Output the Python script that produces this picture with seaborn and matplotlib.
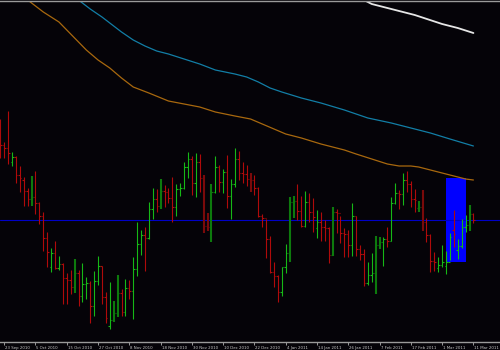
import numpy as np
import pandas as pd
import matplotlib
matplotlib.use("Agg")
import matplotlib.pyplot as plt
import matplotlib.transforms as mtransforms
from matplotlib.patches import Rectangle
import seaborn as sns

# ---------------- data (price units of the chart) ----------------
opens = [225, 205, 202, 188, 193, 175, 170, 159, 151, 153, 147, 134, 112, 83, 97, 82, 86, 72, 70, 63,
         77, 54, 66, 67, 44, 69, 84, 53, 24, 30, 37, 57, 38, 62, 59, 81, 106, 115, 112, 141,
         151, 144, 159, 158, 152, 143, 161, 162, 183, 191, 167, 188, 172, 124, 123, 158, 183, 168, 178, 154,
         166, 191, 177, 176, 171, 170, 162, 134, 132, 111, 78, 74, 58, 83, 97, 148, 149, 139, 124, 148,
         138, 122, 128, 123, 122, 95, 138, 137, 117, 116, 105, 134, 101, 96, 67, 75, 77, 105, 108, 111,
         109, 147, 157, 156, 170, 166, 151, 142, 143, 128, 115, 89, 82, 85, 84, 88, 120, 100, 104, 123,
         125, 136]
highs = [231, 208, 239, 198, 194, 184, 173, 162, 174, 179, 148, 138, 118, 102, 109, 94, 87, 77, 80, 91,
         80, 87, 73, 69, 79, 94, 84, 58, 68, 49, 75, 61, 71, 70, 93, 128, 120, 123, 148, 162,
         161, 171, 165, 162, 173, 166, 167, 188, 198, 194, 197, 196, 175, 137, 166, 194, 185, 181, 195, 171,
         202, 199, 188, 185, 177, 175, 163, 136, 131, 114, 88, 75, 83, 106, 153, 154, 166, 154, 159, 157,
         152, 140, 138, 130, 123, 143, 141, 134, 122, 120, 147, 134, 105, 101, 88, 97, 114, 113, 113, 123,
         153, 167, 160, 177, 179, 169, 161, 149, 160, 132, 116, 98, 93, 105, 99, 117, 140, 111, 131, 135,
         145, 137]
lows = [192, 192, 186, 184, 167, 158, 144, 144, 144, 136, 126, 99, 83, 78, 81, 80, 46, 46, 56, 57,
        44, 48, 51, 27, 34, 65, 46, 27, 21, 28, 33, 34, 34, 51, 31, 74, 95, 79, 111, 131,
        138, 141, 143, 147, 128, 134, 154, 161, 172, 155, 153, 158, 117, 119, 108, 157, 158, 157, 142, 131,
        163, 170, 167, 164, 158, 155, 133, 123, 92, 77, 63, 48, 54, 77, 88, 132, 130, 123, 123, 128,
        118, 112, 109, 109, 87, 94, 117, 107, 93, 93, 94, 94, 90, 64, 65, 68, 56, 101, 84, 103,
        109, 146, 141, 145, 158, 143, 138, 138, 119, 108, 78, 79, 78, 83, 76, 90, 103, 91, 102, 118,
        119, 127]
closes = [205, 202, 197, 193, 175, 172, 159, 151, 153, 147, 134, 112, 98, 97, 82, 86, 72, 70, 63, 77,
          54, 66, 67, 44, 69, 84, 53, 32, 30, 37, 57, 38, 62, 59, 81, 106, 115, 112, 141, 151,
          144, 159, 158, 152, 143, 161, 162, 183, 191, 167, 188, 172, 124, 123, 158, 183, 168, 178, 154, 166,
          191, 177, 176, 171, 170, 162, 134, 132, 111, 78, 74, 58, 83, 97, 148, 149, 139, 124, 148, 138,
          133, 128, 123, 122, 95, 138, 137, 117, 116, 105, 134, 101, 96, 67, 75, 77, 105, 108, 111, 109,
          147, 157, 156, 170, 166, 151, 150, 143, 128, 115, 89, 88, 85, 88, 88, 113, 116, 104, 123, 125,
          136, 130]
# bars drawn in the heavier, darker style
heavy_bars = [8, 19, 29, 30, 41, 52, 53, 54, 64, 74, 75, 85, 96, 97, 107, 108, 120]

# moving averages: (bar index, value) samples
ma_orange_idx = [0, 7, 11, 15, 22, 25, 28, 31, 34, 38, 43, 47, 51, 55, 60, 64, 67, 70, 73, 77, 82, 88, 91,
                 95, 99, 102, 105, 107, 111, 114, 117, 119, 121]
ma_orange_val = [369, 350, 338, 328, 300, 290, 282, 272, 263, 257, 249, 246, 243, 238, 234, 231, 226, 221,
                 216, 212, 206, 200, 196, 191, 186, 184, 184, 183, 179, 176, 173, 171, 170]
ma_cyan_idx = [14, 20, 23, 26, 29, 31, 34, 37, 40, 43, 47, 51, 55, 60, 63, 66, 69, 72, 77, 82, 88, 94,
               100, 105, 110, 115, 121]
ma_cyan_val = [364, 350, 341, 333, 324, 318, 310, 304, 299, 296, 291, 286, 280, 276, 273, 268, 262, 258,
               252, 247, 240, 232, 227, 222, 217, 211, 204]
ma_white_idx = [91, 93, 95, 100, 106, 113, 117, 121]
ma_white_val = [353, 350, 346, 341, 335, 326, 322, 317]

level_line = 130
box_start, box_end, box_low, box_high = 114.0, 119.0, 88, 172

tick_idx = [1, 9, 17, 25, 33, 41, 49, 57, 65, 73, 81, 89, 97, 105, 113, 121]
tick_labels = ["23 Sep 2010", "5 Oct 2010", "15 Oct 2010", "27 Oct 2010", "8 Nov 2010", "18 Nov 2010",
               "30 Nov 2010", "10 Dec 2010", "22 Dec 2010", "4 Jan 2011", "14 Jan 2011", "26 Jan 2011",
               "7 Feb 2011", "17 Feb 2011", "1 Mar 2011", "11 Mar 2011"]

# ---------------- styling ----------------
BG = "#050308"
sns.set_style("dark")
plt.rcParams["font.family"] = ["DejaVu Sans"]

fig = plt.figure(figsize=(5, 3.5), dpi=100, facecolor=BG)
ax = fig.add_axes([0, 8 / 350, 1, 341 / 350])
ax.set_facecolor(BG)

n = len(closes)
idx = np.arange(n)
df = pd.DataFrame({"idx": idx, "open": opens, "high": highs, "low": lows, "close": closes})
df["up"] = df["close"] >= df["open"]
df["heavy"] = df["idx"].isin(heavy_bars)

UP, DOWN = "#16b816", "#b00a0a"
UP_H, DOWN_H = "#0d7a0d", "#7a0a0a"

# rectangle (behind bars)
ax.add_patch(Rectangle((box_start, box_low), box_end - box_start, box_high - box_low,
                       facecolor="#0000ff", edgecolor="none", zorder=1))

# level line
ax.axhline(level_line, color="#0000c8", lw=0.8, zorder=1.5)

# OHLC bars
tw = 0.38
for heavy in (False, True):
    for up in (True, False):
        sub = df[(df["up"] == up) & (df["heavy"] == heavy)]
        if sub.empty:
            continue
        if heavy:
            col = UP_H if up else DOWN_H
            lw = 1.5
        else:
            col = UP if up else DOWN
            lw = 0.8
        ax.vlines(sub["idx"], sub["low"], sub["high"], color=col, lw=lw, zorder=3)
        ax.hlines(sub["open"], sub["idx"] - tw, sub["idx"], color=col, lw=0.8, zorder=3)
        ax.hlines(sub["close"], sub["idx"], sub["idx"] + tw, color=col, lw=0.8, zorder=3)

# moving averages
ma = pd.concat([
    pd.DataFrame({"idx": ma_orange_idx, "val": ma_orange_val, "ma": "slow"}),
    pd.DataFrame({"idx": ma_cyan_idx, "val": ma_cyan_val, "ma": "mid"}),
    pd.DataFrame({"idx": ma_white_idx, "val": ma_white_val, "ma": "long"}),
])
sns.lineplot(data=ma, x="idx", y="val", hue="ma", sort=True, estimator=None,
             palette={"slow": "#a8680e", "mid": "#127ea6", "long": "#e6e6e6"},
             linewidth=0.9, legend=False, ax=ax, zorder=2)
for line in ax.get_lines():
    if line.get_color() == "#e6e6e6":
        line.set_linewidth(1.3)

# axes
ax.set_xlim(-0.3 / 3.91, (500 - 0.3) / 3.91)
ax.set_ylim(8, 349)
ax.set_xlabel("")
ax.set_ylabel("")
ax.set_yticks([])
ax.grid(False)
for s in ("left", "right"):
    ax.spines[s].set_visible(False)
for s in ("top", "bottom"):
    ax.spines[s].set_visible(True)
    ax.spines[s].set_color("#9a9a9a")
    ax.spines[s].set_linewidth(1.0)

ax.set_xticks(tick_idx)
ax.set_xticklabels(tick_labels, fontsize=2.8, color="#c8c8c8")
ax.tick_params(axis="x", direction="out", length=2.2, width=0.6, color="#b0b0b0", pad=0.4,
               bottom=True)
offset = mtransforms.ScaledTranslation(1.0 / 100, 0, fig.dpi_scale_trans)
for lbl in ax.get_xticklabels():
    lbl.set_horizontalalignment("left")
    lbl.set_transform(lbl.get_transform() + offset)

fig.savefig("out.png", dpi=100, facecolor=BG)
